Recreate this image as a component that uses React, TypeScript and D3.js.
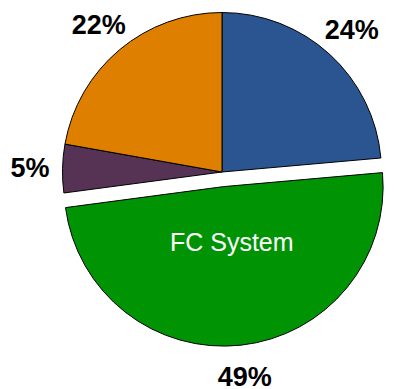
import React from "react";
import * as d3 from "d3";

const categories = ["Blue", "FC System", "Other", "Orange"];
const values = [23.6, 49.3, 4.9, 22.2];
const colors = ["#2A5590", "#009405", "#563355", "#DF7F00"];
const exploded = [false, true, false, false];
const innerLabels = ["", "FC System", "", ""];

const W = 394;
const H = 389;
const cx = 222;
const cy = 172;
const R = 159.5;
const explode = 14.7;
const labelR = 192;

export default function App() {
  const pie = d3
    .pie<number>()
    .sort(null)
    .value((d) => d)
    .startAngle(0)
    .endAngle(2 * Math.PI);
  const arcs = pie(values);
  const arc = d3.arc<d3.PieArcDatum<number>>().innerRadius(0).outerRadius(R);
  const total = d3.sum(values);

  return (
    <svg
      width={W}
      height={H}
      style={{ position: "absolute", left: 0, top: 0, background: "#fff" }}
      fontFamily="Liberation Sans, Arial, sans-serif"
    >
      <g transform={`translate(${cx},${cy})`}>
        {arcs.map((a, i) => {
          const mid = (a.startAngle + a.endAngle) / 2;
          const off = exploded[i] ? explode : 0;
          const dx = Math.sin(mid) * off;
          const dy = -Math.cos(mid) * off;
          return (
            <g key={categories[i]} transform={`translate(${dx},${dy})`}>
              <path d={arc(a) || ""} fill={colors[i]} stroke="#000" strokeWidth={1} strokeLinejoin="round" />
            </g>
          );
        })}
        {arcs.map((a, i) => {
          const mid = (a.startAngle + a.endAngle) / 2;
          const off = exploded[i] ? explode : 0;
          const r = labelR + off;
          const x = Math.sin(mid) * r;
          const y = -Math.cos(mid) * r;
          const pct = Math.round((values[i] / total) * 100);
          return (
            <text
              key={"l" + i}
              x={x}
              y={y}
              textAnchor="middle"
              dominantBaseline="central"
              fontSize={27}
              fontWeight="bold"
              fill="#000"
            >
              {pct}%
            </text>
          );
        })}
        {arcs.map((a, i) => {
          if (!innerLabels[i]) return null;
          const mid = (a.startAngle + a.endAngle) / 2;
          const off = exploded[i] ? explode : 0;
          const r = 56 + off;
          const x = Math.sin(mid) * r;
          const y = -Math.cos(mid) * r;
          return (
            <text
              key={"in" + i}
              x={x + 2}
              y={y}
              textAnchor="middle"
              dominantBaseline="central"
              fontSize={25}
              fill="#fff"
            >
              {innerLabels[i]}
            </text>
          );
        })}
      </g>
    </svg>
  );
}
